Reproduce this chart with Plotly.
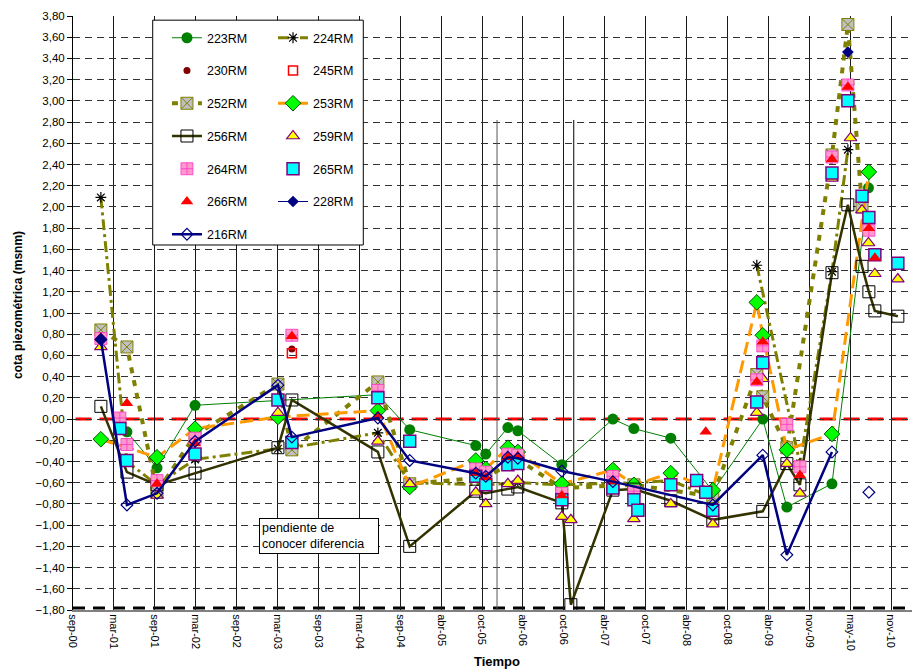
import plotly.graph_objects as go
import pandas as pd

# ---------------- data ----------------
tick_labels = ["sep-00", "mar-01", "sep-01", "mar-02", "sep-02", "mar-03", "sep-03",
               "mar-04", "sep-04", "abr-05", "oct-05", "abr-06", "oct-06", "abr-07",
               "oct-07", "abr-08", "oct-08", "abr-09", "nov-09", "may-10", "nov-10"]

x_223 = ["2001-05-14", "2001-09-27", "2002-03-18", "2004-06-22", "2004-11-13", "2005-09-08",
         "2005-10-23", "2006-01-31", "2006-03-17", "2006-10-02", "2007-05-21", "2007-08-24",
         "2008-02-07", "2008-08-15", "2009-03-29", "2009-07-16", "2010-02-05", "2010-07-20",
         "2010-07-24"]
y_223 = [-0.12, -0.46, 0.13, 0.23, -0.10, -0.25, -0.33, -0.08, -0.11, -0.43, 0.00, -0.09,
         -0.18, -0.68, 0.00, -0.83, -0.61, 2.18, 2.33]

x_224 = ["2001-01-16", "2001-05-14", "2001-09-27", "2002-03-18", "2003-03-28", "2003-05-30",
         "2004-06-22", "2004-11-13", "2005-10-23", "2006-03-17", "2006-10-02", "2007-08-24",
         "2008-02-07", "2008-08-15", "2008-12-01", "2009-03-02", "2009-09-13", "2010-02-05",
         "2010-04-18"]
y_224 = [2.09, -0.40, -0.62, -0.38, -0.28, -0.27, -0.13, -0.60, -0.62, -0.60, -0.62, -0.60,
         -0.58, -0.74, None, 1.45, -0.42, 1.39, 2.54]

x_230 = ["2003-05-30"]
y_230 = [0.66]

x_245 = ["2003-05-30"]
y_245 = [0.62]

x_252 = ["2001-01-16", "2001-05-14", "2001-09-27", "2002-03-18", "2003-03-28", "2003-05-30",
         "2004-06-22", "2004-11-13", "2005-10-23", "2006-03-17", "2006-10-02", "2007-08-24",
         "2008-08-15", "2009-03-02", "2009-03-29", "2009-07-16", "2010-02-05", "2010-04-18",
         "2010-06-21"]
y_252 = [0.84, 0.68, -0.69, -0.15, 0.33, -0.29, 0.35, -0.61, -0.55, -0.38, -0.65, -0.62,
         -0.73, 0.42, 0.21, -0.27, 2.49, 3.72, 2.00]

x_253 = ["2001-01-16", "2001-09-27", "2002-03-18", "2003-03-28", "2004-06-22", "2004-11-13",
         "2005-09-08", "2005-10-23", "2006-01-31", "2006-03-17", "2006-10-02", "2007-05-21",
         "2007-08-24", "2008-02-07", "2008-08-15", "2009-03-02", "2009-03-29", "2009-07-16",
         "2010-02-05", "2010-07-22"]
y_253 = [-0.19, -0.36, -0.09, 0.02, 0.08, -0.64, -0.39, -0.47, -0.27, -0.31, -0.61, -0.48,
         -0.62, -0.51, -0.67, 1.10, 0.79, -0.29, -0.14, 2.33]

x_256 = ["2001-01-16", "2001-05-14", "2001-09-27", "2002-03-18", "2003-03-28", "2003-05-30",
         "2004-06-22", "2004-11-13", "2005-09-08", "2005-10-23", "2006-01-31", "2006-03-17",
         "2006-10-02", "2006-11-12", "2007-05-21", "2007-08-24", "2008-02-07", "2008-08-15",
         "2009-03-29", "2009-07-16", "2009-09-13", "2010-02-05", "2010-04-18", "2010-06-21",
         "2010-07-22", "2010-08-18", "2010-11-30"]
y_256 = [0.12, -0.50, -0.62, -0.51, -0.27, 0.18, -0.31, -1.20, -0.68, -0.70, -0.66, -0.64,
         -0.79, -1.75, -0.67, -0.66, -0.77, -0.95, -0.87, -0.42, -0.62, 1.38, 2.02, 1.44,
         1.20, 1.02, 0.97]

x_259 = ["2001-01-16", "2001-05-14", "2001-09-27", "2002-03-18", "2003-03-28", "2004-06-22",
         "2004-11-13", "2005-09-08", "2005-10-23", "2006-01-31", "2006-03-17", "2006-10-02",
         "2006-11-12", "2007-08-24", "2008-02-07", "2008-08-15", "2009-03-02", "2009-03-29",
         "2009-07-16", "2009-09-13", "2010-02-05", "2010-04-30", "2010-06-21", "2010-07-20",
         "2010-08-18", "2010-11-30"]
y_259 = [0.68, -0.26, -0.72, -0.33, 0.06, -0.21, -0.61, -0.69, -0.80, -0.61, -0.58, -0.92,
         -0.95, -0.94, -0.80, -0.99, 0.06, 0.38, -0.42, -0.70, 2.27, 2.65, 1.97, 1.66,
         1.37, 1.32]

x_264 = ["2001-01-16", "2001-04-12", "2001-05-14", "2001-09-27", "2002-03-18", "2003-05-30",
         "2004-06-22", "2005-09-08", "2005-10-23", "2006-01-31", "2006-03-17", "2006-10-02",
         "2007-05-21", "2007-08-24", "2009-03-02", "2009-03-29", "2009-07-16", "2009-09-13",
         "2010-02-05", "2010-04-18", "2010-07-22"]
y_264 = [0.76, 0.01, -0.24, -0.58, -0.18, 0.79, 0.27, -0.47, -0.50, -0.33, -0.34, -0.70,
         -0.54, -0.68, 0.37, 0.69, -0.05, -0.45, 2.47, 3.15, 1.78]

x_265 = ["2001-04-12", "2001-05-14", "2002-03-18", "2003-03-28", "2003-05-30", "2004-06-22",
         "2004-11-13", "2005-09-08", "2005-10-23", "2006-01-31", "2006-03-17", "2006-10-02",
         "2007-05-21", "2007-08-24", "2007-09-11", "2008-02-07", "2008-06-03", "2008-07-14",
         "2008-08-15", "2009-03-02", "2009-03-29", "2010-02-05", "2010-04-18", "2010-06-21",
         "2010-07-22", "2010-08-18", "2010-11-30"]
y_265 = [-0.09, -0.39, -0.33, 0.18, -0.22, 0.20, -0.21, -0.54, -0.62, -0.43, -0.42, -0.76,
         -0.65, -0.76, -0.86, -0.62, -0.58, -0.69, -0.86, 0.16, 0.53, 2.32, 3.00, 2.10,
         1.90, 1.55, 1.47]

x_266 = ["2001-01-16", "2001-05-14", "2001-09-27", "2002-03-18", "2003-05-30", "2004-06-22",
         "2005-09-08", "2005-10-23", "2006-01-31", "2006-03-17", "2006-10-02", "2007-05-21",
         "2008-07-14", "2009-03-02", "2009-03-29", "2009-09-13", "2010-02-05", "2010-04-18",
         "2010-07-22", "2010-08-18"]
y_266 = [0.77, 0.15, -0.61, -0.23, 0.78, 0.03, -0.51, -0.55, -0.36, -0.35, -0.72, -0.59,
         -0.12, 0.35, 0.73, -0.53, 2.45, 3.13, 1.80, 1.52]

x_228 = ["2001-01-16", "2005-01-01", "2010-04-18"]
y_228 = [0.75, None, 3.46]

x_216 = ["2001-01-16", "2001-05-14", "2001-09-27", "2002-03-18", "2003-03-28", "2003-05-30",
         "2004-06-22", "2004-11-13", "2005-09-08", "2005-10-23", "2006-01-31", "2006-03-17",
         "2006-10-02", "2007-05-21", "2008-08-15", "2009-03-29", "2009-07-16", "2010-02-05",
         "2010-05-01", "2010-07-22"]
y_216 = [0.75, -0.81, -0.70, -0.21, 0.32, -0.17, 0.01, -0.39, -0.51, -0.54, -0.36, -0.37,
         -0.49, -0.59, -0.81, -0.34, -1.28, -0.31, None, -0.69]

# ---------------- styles ----------------
FONT = "Liberation Sans, Arial, sans-serif"
series = [
    ("223RM", x_223, y_223, "legend", dict(color="#008000", width=1),
     dict(symbol="circle", size=11, color="#008000"), "lines+markers"),
    ("224RM", x_224, y_224, "legend2", dict(color="#808000", width=3, dash="11px,4px,3px,4px"),
     dict(symbol="asterisk-open", size=9, color="black", line=dict(color="black", width=1.2)), "lines+markers"),
    ("230RM", x_230, y_230, "legend", None,
     dict(symbol="circle", size=7, color="#800000"), "markers"),
    ("245RM", x_245, y_245, "legend2", None,
     dict(symbol="square-open", size=9, color="red", line=dict(color="red", width=1.5)), "markers"),
    ("252RM", x_252, y_252, "legend", dict(color="#808000", width=4, dash="6px,7px"),
     dict(symbol="square-x", size=12, color="#c0c0c0", line=dict(color="#808000", width=1)), "lines+markers"),
    ("253RM", x_253, y_253, "legend2", dict(color="#FF9900", width=3, dash="13px,6px"),
     dict(symbol="diamond", size=12, color="#00FF00", line=dict(color="#005000", width=1)), "lines+markers"),
    ("256RM", x_256, y_256, "legend", dict(color="#333300", width=2.5),
     dict(symbol="square-open", size=12, color="black", line=dict(color="black", width=1)), "lines+markers"),
    ("259RM", x_259, y_259, "legend2", None,
     dict(symbol="triangle-up", size=11, color="#FFFF00", line=dict(color="#800080", width=1.2)), "markers"),
    ("264RM", x_264, y_264, "legend", None,
     dict(symbol="square-cross", size=12, color="#FF99CC", line=dict(color="#FF33CC", width=0.8)), "markers"),
    ("265RM", x_265, y_265, "legend2", None,
     dict(symbol="square", size=12, color="#00FFFF", line=dict(color="#800080", width=1.5)), "markers"),
    ("266RM", x_266, y_266, "legend", None,
     dict(symbol="triangle-up", size=11, color="#FF0000", line=dict(color="#FF0000", width=0)), "markers"),
    ("228RM", x_228, y_228, "legend2", dict(color="#000080", width=1),
     dict(symbol="diamond", size=9, color="#000080"), "lines+markers"),
    ("216RM", x_216, y_216, "legend", dict(color="#000080", width=2.5),
     dict(symbol="diamond-open", size=9, color="#000080", line=dict(color="#000080", width=1.2)), "lines+markers"),
]

fig = go.Figure()
for name, xs, ys, leg, line, marker, mode in series:
    kw = dict(x=pd.to_datetime(xs), y=ys, name=name, mode=mode, marker=marker,
              legend=leg, legendgroup=name, connectgaps=False)
    if line is not None:
        kw["line"] = line
    fig.add_trace(go.Scatter(**kw))

# axis scale
d0 = pd.Timestamp("2000-09-12")
step = pd.Timedelta(days=185)
tick_vals = [d0 + k * step for k in range(len(tick_labels))]
x_end = d0 + pd.Timedelta(days=3795)

fig.update_xaxes(
    type="date", range=[d0, x_end], tickvals=tick_vals, ticktext=tick_labels,
    tickangle=90, tickfont=dict(family=FONT, size=11, color="black"),
    showgrid=True, gridcolor="#1a1a1a", gridwidth=1,
    showline=True, linecolor="#808080", linewidth=2, ticks="",
    automargin=False, zeroline=False,
)
fig.update_yaxes(
    range=[-1.8, 3.8], tick0=0, dtick=0.2, tickformat=".2f",
    tickfont=dict(family=FONT, size=11.5, color="black"),
    showgrid=True, gridcolor="#333333", gridwidth=1, griddash="7px,5px",
    showline=True, linecolor="black", linewidth=1, ticks="outside", ticklen=5, tickcolor="black",
    automargin=False, zeroline=False,
)

shapes = [
    dict(type="line", xref="paper", yref="y", x0=0.003, x1=1, y0=0, y1=0,
         line=dict(color="#FF0000", width=3, dash="16px,8px"), layer="between"),
    dict(type="line", xref="paper", yref="y", x0=0, x1=1, y0=-1.78, y1=-1.78,
         line=dict(color="black", width=3, dash="12px,8px"), layer="between"),
    dict(type="line", xref="x", yref="y", x0="2005-12-13", x1="2005-12-13", y0=-1.8, y1=2.82,
         line=dict(color="#555555", width=1), layer="between"),
    dict(type="line", xref="x", yref="y", x0="2006-11-25", x1="2006-11-25", y0=-1.8, y1=2.82,
         line=dict(color="black", width=1), layer="between"),
    dict(type="rect", xref="paper", yref="paper", x0=0.095, x1=0.346, y0=0.6145, y1=0.993,
         fillcolor="white", line=dict(color="black", width=1), layer="above"),
]

fig.update_layout(
    width=917, height=671,
    margin=dict(l=73, r=5, t=16, b=61),
    paper_bgcolor="white", plot_bgcolor="white",
    separators=",.",
    font=dict(family=FONT, size=12, color="black"),
    shapes=shapes,
    legend=dict(x=0.112, y=0.988, xanchor="left", yanchor="top", bgcolor="rgba(0,0,0,0)",
                tracegroupgap=13.5, font=dict(family=FONT, size=12.5, color="black"), itemwidth=30),
    legend2=dict(x=0.2384, y=0.988, xanchor="left", yanchor="top", bgcolor="rgba(0,0,0,0)",
                 tracegroupgap=13.5, font=dict(family=FONT, size=12.5, color="black"), itemwidth=30),
    annotations=[
        dict(xref="paper", yref="paper", x=0.2938, y=0.1246, xanchor="center", yanchor="middle",
             text="pendiente de<br>conocer diferencia", showarrow=False, align="left",
             font=dict(family=FONT, size=12.5, color="black"),
             bgcolor="white", bordercolor="black", borderwidth=1, borderpad=2, width=114),
        dict(xref="paper", yref="paper", x=-0.0656, y=0.5135, xanchor="center", yanchor="middle",
             text="<b>cota piezométrica (msnm)</b>", textangle=-90, showarrow=False,
             font=dict(family=FONT, size=12, color="black")),
        dict(xref="paper", yref="paper", x=0.5054, y=-0.0859, xanchor="center", yanchor="middle",
             text="<b>Tiempo</b>", showarrow=False,
             font=dict(family=FONT, size=13, color="black")),
    ],
)

fig.write_html("out.html", config={"displayModeBar": False},
               post_script="document.body.style.margin='0';document.body.style.padding='0';")
